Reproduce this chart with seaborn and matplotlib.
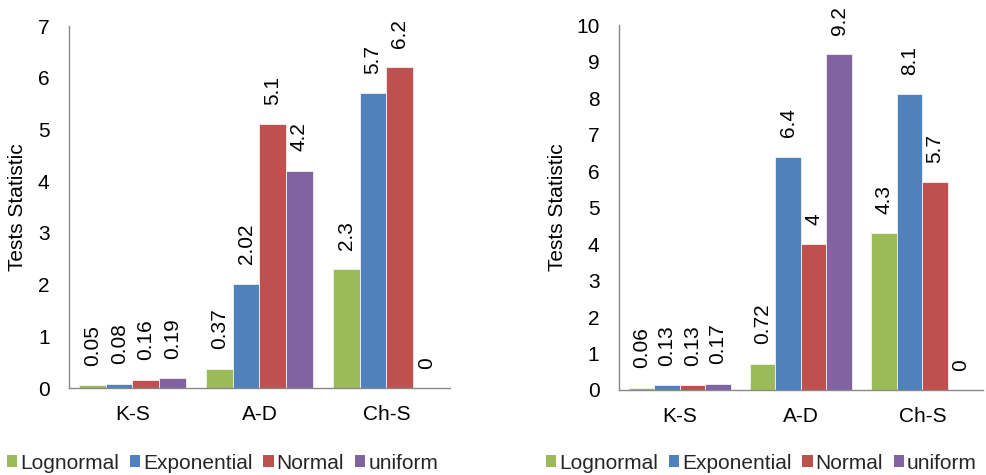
import matplotlib
matplotlib.use("Agg")
import matplotlib.pyplot as plt
import seaborn as sns
import pandas as pd
from matplotlib.patches import Patch

tests = ["K-S", "A-D", "Ch-S"]
distributions = ["Lognormal", "Exponential", "Normal", "uniform"]
left_values = {
    "Lognormal": [0.05, 0.37, 2.3],
    "Exponential": [0.08, 2.02, 5.7],
    "Normal": [0.16, 5.1, 6.2],
    "uniform": [0.19, 4.2, 0],
}
right_values = {
    "Lognormal": [0.06, 0.72, 4.3],
    "Exponential": [0.13, 6.4, 8.1],
    "Normal": [0.13, 4, 5.7],
    "uniform": [0.17, 9.2, 0],
}
left_labels = {
    "Lognormal": ["0.05", "0.37", "2.3"],
    "Exponential": ["0.08", "2.02", "5.7"],
    "Normal": ["0.16", "5.1", "6.2"],
    "uniform": ["0.19", "4.2", "0"],
}
right_labels = {
    "Lognormal": ["0.06", "0.72", "4.3"],
    "Exponential": ["0.13", "6.4", "8.1"],
    "Normal": ["0.13", "4", "5.7"],
    "uniform": ["0.17", "9.2", "0"],
}
colors = ["#9BBB59", "#4F81BD", "#C0504D", "#8064A2"]

sns.set_theme(style="white")
plt.rcParams["font.family"] = ["Liberation Sans", "DejaVu Sans"]

FS = 15

fig = plt.figure(figsize=(9.87, 4.75), dpi=100)
ax1 = fig.add_axes([0.0699, 0.183, 0.386, 0.762])
ax2 = fig.add_axes([0.627, 0.179, 0.369, 0.768])


def make_df(vals):
    rows = []
    for d in distributions:
        for t, v in zip(tests, vals[d]):
            rows.append({"test": t, "dist": d, "value": v})
    return pd.DataFrame(rows)


def draw(ax, vals, labels, ymax, step, label_x):
    df = make_df(vals)
    sns.barplot(data=df, x="test", y="value", hue="dist", order=tests,
                hue_order=distributions, palette=colors, width=0.84,
                edgecolor="#f2f2f2", linewidth=0.6, ax=ax, legend=False,
                saturation=1)
    for cont, d in zip(ax.containers, distributions):
        ax.bar_label(cont, labels=labels[d], rotation=90, padding=14,
                     fontsize=FS, color="black")
    ax.set_ylim(0, ymax)
    ax.set_xlim(-0.5, 2.5)
    ax.set_yticks(range(0, ymax + 1, step))
    ax.set_xlabel("")
    ax.set_ylabel("Tests Statistic", fontsize=FS, color="black")
    ax.yaxis.set_label_coords(label_x, 0.5)
    ax.tick_params(axis="y", labelsize=FS, length=0, pad=14, colors="black")
    ax.tick_params(axis="x", which="major", labelsize=FS, length=0, pad=12,
                   colors="black")
    ax.set_xticks([-0.5, 0.5, 1.5, 2.5], minor=True)
    ax.tick_params(axis="x", which="minor", length=5, color="#888888", width=1)
    for s in ["top", "right"]:
        ax.spines[s].set_visible(False)
    for s in ["left", "bottom"]:
        ax.spines[s].set_color("#888888")
        ax.spines[s].set_linewidth(1)
    ax.grid(False)


draw(ax1, left_values, left_labels, 7, 1, -0.110)
draw(ax2, right_values, right_labels, 10, 1, -0.143)

handles = [Patch(facecolor=c, edgecolor="none") for c in colors]
for x0 in (0.007, 0.553):
    fig.legend(handles, distributions, loc="center left",
               bbox_to_anchor=(x0, 0.025), ncol=4, frameon=False,
               fontsize=FS, handlelength=0.5, handleheight=0.5,
               handletextpad=0.15, columnspacing=0.5, borderaxespad=0.0,
               borderpad=0.0)

fig.savefig("out.png", dpi=100)
